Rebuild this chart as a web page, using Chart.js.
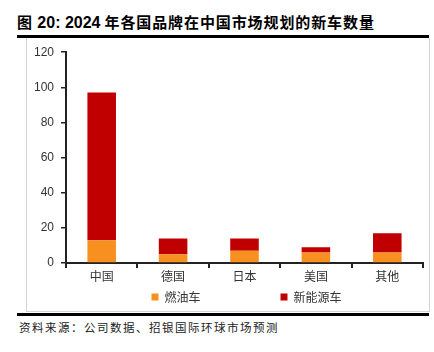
<!DOCTYPE html>
<html>
<head>
<meta charset="utf-8">
<script src="https://cdn.jsdelivr.net/npm/chart.js@4/dist/chart.umd.min.js"></script>
<style>
  html, body { margin: 0; padding: 0; background: #fff; }
  body { width: 434px; height: 352px; position: relative; overflow: hidden; }
  #title {
    position: absolute; left: 17px; top: 11px;
    font-family: "Liberation Sans", "Noto Sans CJK SC", sans-serif;
    font-weight: bold; font-size: 16px; color: #000; white-space: nowrap;
  }
  #title .cjk { font-family: "Noto Sans CJK SC", sans-serif; font-weight: bold; font-size: 15px; letter-spacing: 0.9px; }
  #title .rest { margin-left: 4px; }
  #topline { position: absolute; left: 17px; top: 35px; width: 412px; height: 3px; background: #000; }
  #box { position: absolute; left: 26px; top: 38px; width: 402px; height: 273px;
         border-left: 1px solid #d4d4d4; border-right: 1px solid #d4d4d4; border-bottom: 1px solid #d4d4d4; }
  #botline { position: absolute; left: 17px; top: 313px; width: 412px; height: 3px; background: #000; }
  #source { position: absolute; left: 19px; top: 319px; font-family: "Noto Sans CJK SC", sans-serif;
            font-size: 11.5px; color: #222; letter-spacing: 1.5px; white-space: nowrap; }
  #wrap { position: absolute; left: 27px; top: 38px; width: 402px; height: 273px; }
</style>
</head>
<body>
<div id="title"><span class="cjk">图</span> 20: 2024<span class="cjk rest">年各国品牌在中国市场规划的新车数量</span></div>
<div id="topline"></div>
<div id="box"></div>
<div id="wrap"><canvas id="myChart"></canvas></div>
<div id="botline"></div>
<div id="source">资料来源：公司数据、招银国际环球市场预测</div>
<script>
var categories = ["中国", "德国", "日本", "美国", "其他"];
var fuelCars = [13, 5, 7, 6, 6];
var nevCars = [84, 9, 7, 3, 11];
var yTicks = [0, 20, 40, 60, 80, 100, 120];

// legend with wide gap between items, drawn below the x axis
var wideLegend = {
    id: 'wideLegend',
    afterDraw: function (chart) {
        var c = chart.ctx, area = chart.chartArea;
        var x = (area.left + area.right) / 2 - 93;
        var y = chart.height - 14;
        c.save();
        c.font = '12px "Noto Sans CJK SC", sans-serif';
        c.textBaseline = 'middle';
        chart.data.datasets.forEach(function (ds, i) {
            var bx = x + i * 129;
            c.fillStyle = ds.backgroundColor;
            c.fillRect(bx, y - 3.5, 7, 7);
            c.fillStyle = '#333';
            c.fillText(ds.label, bx + 13, y + 0.5);
        });
        c.restore();
    }
};

var ctx = document.getElementById('myChart').getContext('2d');
var chart = new Chart(ctx, {
    type: 'bar',
    data: {
        labels: categories,
        datasets: [{
            label: "燃油车",
            backgroundColor: '#F7901E',
            data: fuelCars,
            barPercentage: 0.4,
            categoryPercentage: 1.0
        }, {
            label: "新能源车",
            backgroundColor: '#C00000',
            data: nevCars,
            barPercentage: 0.4,
            categoryPercentage: 1.0
        }]
    },
    plugins: [wideLegend],
    options: {
        responsive: true,
        maintainAspectRatio: false,
        animation: false,
        layout: { padding: { top: 5, right: 6, left: 0, bottom: 26 } },
        plugins: {
            legend: { display: false },
            tooltip: { enabled: false }
        },
        scales: {
            x: {
                stacked: true,
                afterFit: function (axis) { axis.height = 22; },
                grid: { display: true, drawOnChartArea: false, drawTicks: true, tickLength: 5, color: '#222', lineWidth: 2, offset: true },
                border: { display: true, color: '#222', width: 2 },
                ticks: { color: '#333', padding: 1, font: { family: '"Noto Sans CJK SC", sans-serif', size: 12 } }
            },
            y: {
                stacked: true,
                min: 0, max: 120,
                afterBuildTicks: function (axis) { axis.ticks = yTicks.map(function (v) { return { value: v }; }); },
                afterFit: function (axis) { axis.width = 39; },
                grid: { display: true, drawOnChartArea: false, drawTicks: true, tickLength: 5, color: '#222', lineWidth: 1.5 },
                border: { display: true, color: '#222', width: 2 },
                ticks: { color: '#333', padding: 7, autoSkip: false, font: { family: '"Liberation Sans", Arial, sans-serif', size: 12 } }
            }
        }
    }
});
</script>
</body>
</html>
